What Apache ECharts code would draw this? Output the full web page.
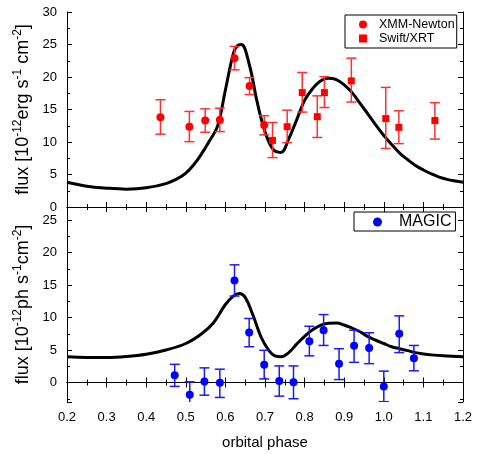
<!DOCTYPE html>
<html>
<head>
<meta charset="utf-8">
<title>orbital phase light curves</title>
<script src="https://cdn.jsdelivr.net/npm/echarts@6/dist/echarts.min.js"></script>
<style>
  html, body { margin: 0; padding: 0; background: #fff; }
  #main { width: 479px; height: 454px; }
</style>
</head>
<body>
<div id="main"></div>
<script>
// X-ray panel: XMM-Newton points
var xmmPhase = [0.436, 0.509, 0.549, 0.586, 0.623, 0.661, 0.698];
var xmmFlux  = [13.8, 12.35, 13.3, 13.4, 22.9, 18.6, 12.6];
var xmmLow   = [11.2, 10.05, 11.5, 11.6, 21.1, 17.3, 11.1];
var xmmHigh  = [16.5, 14.7, 15.1, 15.2, 24.7, 19.9, 14.05];

// X-ray panel: Swift/XRT points
var swiftPhase = [0.719, 0.756, 0.794, 0.832, 0.850, 0.918, 1.005, 1.038, 1.129];
var swiftFlux  = [10.25, 12.35, 17.6, 13.9, 17.6, 19.4, 13.6, 12.25, 13.3];
var swiftLow   = [7.6, 9.9, 14.6, 10.7, 15.3, 16.15, 9.0, 9.75, 10.45];
var swiftHigh  = [13.0, 14.9, 20.7, 17.1, 20.05, 22.9, 18.4, 14.8, 16.05];

// gamma panel: MAGIC points
var magicPhase = [0.472, 0.510, 0.547, 0.586, 0.623, 0.660, 0.698, 0.736, 0.772, 0.812, 0.848, 0.887, 0.925, 0.963, 1.000, 1.039, 1.076];
var magicFlux  = [1.1, -1.9, 0.15, -0.05, 15.7, 7.7, 2.75, 0.25, 0.05, 6.35, 8.05, 2.9, 5.65, 5.3, -0.6, 7.5, 3.75];
var magicLow   = [-0.6, -3.9, -1.95, -2.3, 13.3, 5.5, 0.55, -2.1, -2.5, 4.1, 5.7, 0.45, 3.1, 2.9, -2.95, 4.6, 1.8];
var magicHigh  = [2.8, 0.1, 2.25, 2.05, 18.1, 9.85, 4.95, 2.55, 2.55, 8.65, 10.45, 5.2, 8.05, 7.65, 1.75, 10.25, 5.7];

// model curves
var xModelPhase = [0.2, 0.25, 0.3, 0.35, 0.4, 0.45, 0.48, 0.5, 0.52, 0.54, 0.56, 0.58, 0.6, 0.62, 0.63, 0.64, 0.66, 0.68, 0.7, 0.72, 0.74, 0.76, 0.78, 0.8, 0.82, 0.84, 0.86, 0.88, 0.9, 0.92, 0.94, 0.96, 0.98, 1.0, 1.02, 1.04, 1.06, 1.08, 1.1, 1.12, 1.14, 1.16, 1.18, 1.2];
var xModelFlux  = [3.8, 3.2, 2.9, 2.75, 2.95, 3.6, 4.4, 5.2, 6.5, 8.2, 10.2, 12.4, 18.0, 23.6, 24.8, 25.0, 22.0, 16.2, 11.6, 8.9, 8.4, 10.5, 13.4, 16.4, 18.2, 19.4, 19.8, 19.6, 18.8, 17.6, 15.95, 14.3, 12.6, 11.0, 9.6, 8.3, 7.3, 6.4, 5.7, 5.1, 4.6, 4.25, 4.0, 3.8];
var gModelPhase = [0.2, 0.25, 0.3, 0.35, 0.4, 0.45, 0.5, 0.54, 0.57, 0.6, 0.62, 0.635, 0.65, 0.67, 0.69, 0.71, 0.725, 0.74, 0.76, 0.78, 0.8, 0.82, 0.84, 0.86, 0.88, 0.9, 0.92, 0.94, 0.96, 0.98, 1.0, 1.02, 1.04, 1.06, 1.08, 1.1, 1.12, 1.15, 1.2];
var gModelFlux  = [3.95, 3.85, 3.85, 4.0, 4.35, 5.0, 6.0, 7.5, 9.2, 12.0, 13.3, 13.7, 13.1, 10.3, 7.0, 4.9, 4.1, 3.95, 4.6, 5.9, 7.1, 8.1, 8.8, 9.1, 9.15, 8.85, 8.35, 7.8, 7.05, 6.5, 6.0, 5.5, 5.2, 4.9, 4.6, 4.4, 4.25, 4.1, 3.95];

var FONT = 'Liberation Sans, Arial, sans-serif';

function zip2(a, b) { return a.map(function (v, i) { return [v, b[i]]; }); }
function zip3(a, b, c) { return a.map(function (v, i) { return [v, b[i], c[i]]; }); }

// vertical error bar with caps
function errorBar(color) {
  return function (params, api) {
    var x = api.value(0);
    var lo = api.coord([x, api.value(1)]);
    var hi = api.coord([x, api.value(2)]);
    var w = 5;
    var st = { stroke: color, lineWidth: 1.5 };
    return {
      type: 'group',
      children: [
        { type: 'line', shape: { x1: lo[0], y1: lo[1], x2: hi[0], y2: hi[1] }, style: st },
        { type: 'line', shape: { x1: hi[0] - w, y1: hi[1], x2: hi[0] + w, y2: hi[1] }, style: st },
        { type: 'line', shape: { x1: lo[0] - w, y1: lo[1], x2: lo[0] + w, y2: lo[1] }, style: st }
      ]
    };
  };
}

var line = { show: true, lineStyle: { color: '#000', width: 1 } };

function xAx(grid, pos, labels) {
  return {
    type: 'value', gridIndex: grid, position: pos, min: 0.2, max: 1.2, interval: 0.1,
    axisLine: line, splitLine: { show: false },
    axisTick: { inside: true, length: 5, lineStyle: { color: '#000' } },
    minorTick: { show: true, splitNumber: 2, length: 3, lineStyle: { color: '#000' } },
    axisLabel: labels ? {
      color: '#000', fontSize: 13, fontFamily: FONT, margin: 9,
      formatter: function (v) { return v.toFixed(1); }
    } : { show: false },
    name: labels ? 'orbital phase' : '',
    nameLocation: 'middle', nameGap: 33,
    nameTextStyle: { color: '#000', fontSize: 15, fontFamily: FONT }
  };
}

var supRich = {
  n: { fontSize: 18, fontFamily: FONT, color: '#000', lineHeight: 21 },
  s: { fontSize: 12, fontFamily: FONT, color: '#000', verticalAlign: 'top', lineHeight: 21 }
};

var myChart = echarts.init(document.getElementById('main'));

var option = {
  backgroundColor: '#fff',
  animation: false,
  grid: [
    { left: 67, top: 12, width: 396, height: 195 },
    { left: 67, top: 207, width: 396, height: 195 }
  ],
  legend: [
    {
      data: ['XMM-Newton', 'Swift/XRT'],
      orient: 'vertical', left: 345, top: 15,
      itemWidth: 8, itemHeight: 8, itemGap: 1,
      padding: [3, 2, 3, 14],
      borderColor: '#000', borderWidth: 1,
      textStyle: { color: '#000', fontSize: 12.5, fontFamily: FONT, padding: [0, 0, 0, 7] }
    },
    {
      data: ['MAGIC'],
      left: 354, top: 212,
      itemWidth: 9, itemHeight: 9,
      padding: [2, 4, 1, 19],
      borderColor: '#000', borderWidth: 1,
      textStyle: { color: '#000', fontSize: 16, fontFamily: FONT, padding: [0, 0, 0, 12] }
    }
  ],
  xAxis: [
    xAx(0, 'bottom', false),
    xAx(0, 'top', false),
    xAx(1, 'bottom', true),
    xAx(1, 'top', false)
  ],
  yAxis: [
    {
      type: 'value', gridIndex: 0, position: 'left', min: 0, max: 30, interval: 5,
      axisLine: line, splitLine: { show: false },
      axisTick: { inside: true, length: 5, lineStyle: { color: '#000' } },
      minorTick: { show: true, splitNumber: 2, length: 3, lineStyle: { color: '#000' } },
      axisLabel: { color: '#000', fontSize: 13, fontFamily: FONT, margin: 10 },
      name: '{n|flux [10}{s|-12}{n|erg s}{s|-1}{n| cm}{s|-2}{n|]}',
      nameLocation: 'middle', nameGap: 32, nameRotate: 90,
      nameTextStyle: { rich: supRich }
    },
    {
      type: 'value', gridIndex: 0, position: 'right', min: 0, max: 30, interval: 5,
      axisLine: line, splitLine: { show: false },
      axisTick: { inside: true, length: 5, lineStyle: { color: '#000' } },
      minorTick: { show: true, splitNumber: 2, length: 3, lineStyle: { color: '#000' } },
      axisLabel: { show: false }
    },
    {
      type: 'value', gridIndex: 1, position: 'left', min: -3, max: 27,
      minInterval: 5, maxInterval: 5,
      axisLine: line, splitLine: { show: false },
      axisTick: { inside: true, length: 5, lineStyle: { color: '#000' } },
      axisLabel: {
        color: '#000', fontSize: 13, fontFamily: FONT, margin: 10,
        formatter: function (v) { return v % 5 === 0 ? String(v) : ''; }
      },
      name: '{n|flux [10}{s|-12}{n|ph s}{s|-1}{n|cm}{s|-2}{n|]}',
      nameLocation: 'middle', nameGap: 32, nameRotate: 90,
      nameTextStyle: { rich: supRich }
    },
    {
      type: 'value', gridIndex: 1, position: 'right', min: -3, max: 27,
      minInterval: 5, maxInterval: 5,
      axisLine: line, splitLine: { show: false },
      axisTick: { inside: true, length: 5, lineStyle: { color: '#000' } },
      axisLabel: { show: false }
    },
    {
      type: 'value', gridIndex: 1, position: 'left', min: -3, max: 27,
      minInterval: 2.5, maxInterval: 2.5,
      axisLine: { show: false }, splitLine: { show: false },
      axisTick: { inside: true, length: 3, lineStyle: { color: '#000' } },
      axisLabel: { show: false }
    },
    {
      type: 'value', gridIndex: 1, position: 'right', min: -3, max: 27,
      minInterval: 2.5, maxInterval: 2.5,
      axisLine: { show: false }, splitLine: { show: false },
      axisTick: { inside: true, length: 3, lineStyle: { color: '#000' } },
      axisLabel: { show: false }
    }
  ],
  series: [
    {
      name: 'model X', type: 'line', xAxisIndex: 0, yAxisIndex: 0,
      data: zip2(xModelPhase, xModelFlux), smooth: 0.4, showSymbol: false,
      lineStyle: { color: '#000', width: 3 }, z: 1, silent: true
    },
    {
      name: 'xmm err', type: 'custom', xAxisIndex: 0, yAxisIndex: 0, clip: true,
      renderItem: errorBar('#ff3030'), data: zip3(xmmPhase, xmmLow, xmmHigh), z: 2
    },
    {
      name: 'XMM-Newton', type: 'scatter', xAxisIndex: 0, yAxisIndex: 0,
      symbol: 'circle', symbolSize: 8, itemStyle: { color: '#ff0000', opacity: 1 },
      data: zip2(xmmPhase, xmmFlux), z: 3
    },
    {
      name: 'swift err', type: 'custom', xAxisIndex: 0, yAxisIndex: 0, clip: true,
      renderItem: errorBar('#ff3030'), data: zip3(swiftPhase, swiftLow, swiftHigh), z: 2
    },
    {
      name: 'Swift/XRT', type: 'scatter', xAxisIndex: 0, yAxisIndex: 0,
      symbol: 'rect', symbolSize: 7, itemStyle: { color: '#ff0000', opacity: 1 },
      data: zip2(swiftPhase, swiftFlux), z: 3
    },
    {
      name: 'model gamma', type: 'line', xAxisIndex: 2, yAxisIndex: 2,
      data: zip2(gModelPhase, gModelFlux), smooth: 0.4, showSymbol: false,
      lineStyle: { color: '#000', width: 3 }, z: 1, silent: true
    },
    {
      name: 'magic err', type: 'custom', xAxisIndex: 2, yAxisIndex: 2, clip: true,
      renderItem: errorBar('#1a1aff'), data: zip3(magicPhase, magicLow, magicHigh), z: 2
    },
    {
      name: 'MAGIC', type: 'scatter', xAxisIndex: 2, yAxisIndex: 2,
      symbol: 'circle', symbolSize: 8, itemStyle: { color: '#0000ff', opacity: 1 },
      data: zip2(magicPhase, magicFlux), z: 3
    }
  ]
};

myChart.setOption(option);
</script>
</body>
</html>
